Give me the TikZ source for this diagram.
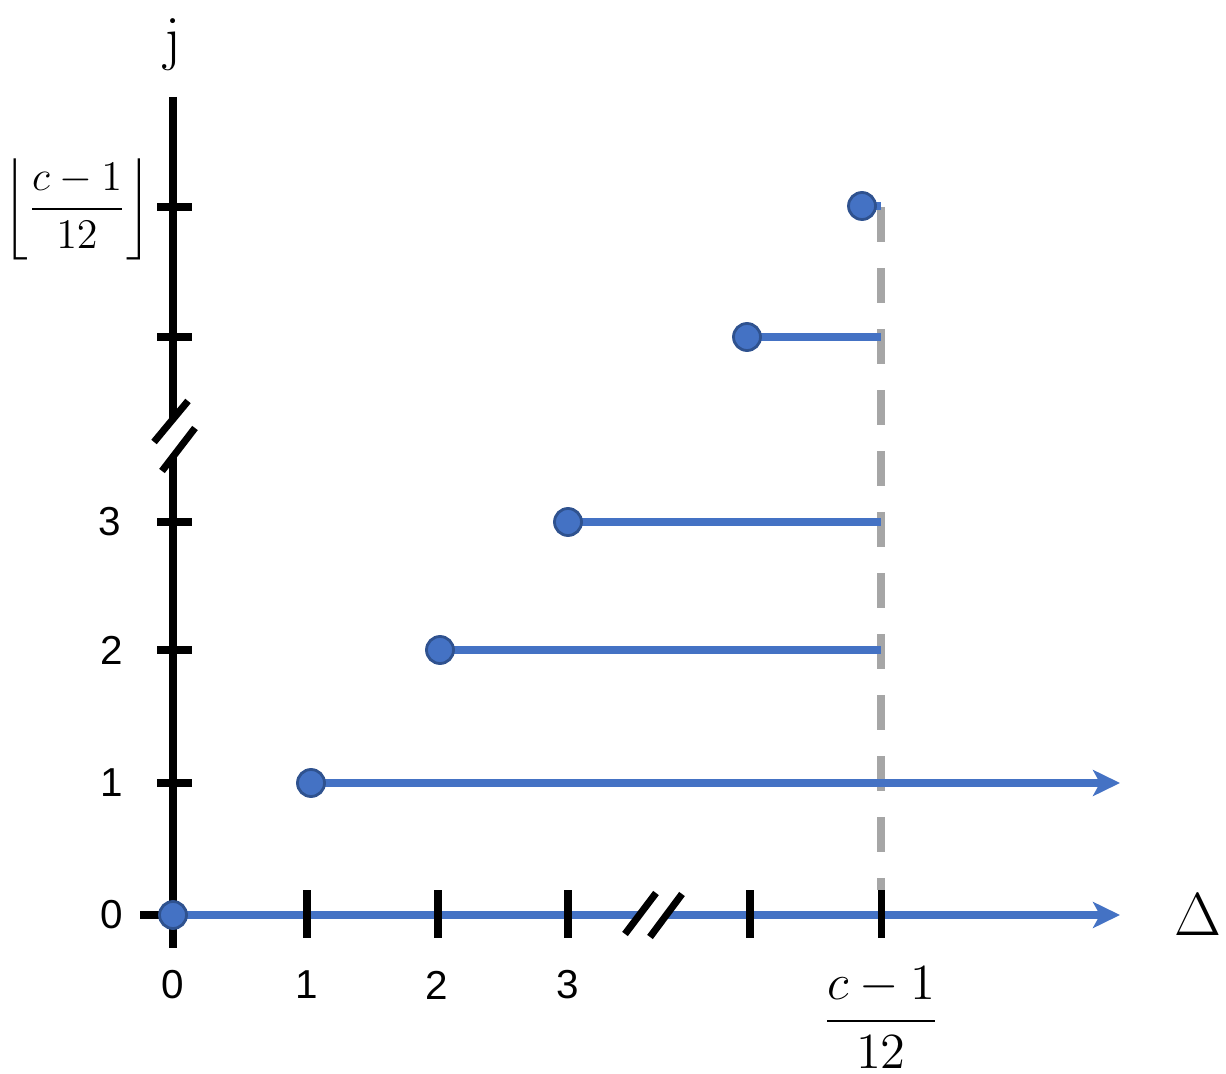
\documentclass[tikz,border=0pt]{standalone}
\usepackage[no-math]{fontspec}
\setmainfont{Liberation Sans}
\usepackage{amsmath}
\usetikzlibrary{arrows.meta, positioning, calc}
\definecolor{lineblue}{HTML}{4472C4}
\definecolor{dotedge}{HTML}{2F528F}
\definecolor{guidegray}{HTML}{A6A6A6}

\begin{document}
\begin{tikzpicture}[
    x=0.1mm, y=-0.1mm,
    axis/.style={line width=2pt, black},
    tickmark/.style={line width=2pt, black},
    level/.style={line width=2.2pt, lineblue},
    levelarrow/.style={level, -{Stealth[length=2.7mm, width=2.6mm, inset=0.7mm]}},
    guide/.style={line width=2.2pt, guidegray, dash pattern=on 3.5mm off 2.6mm},
    state/.style={circle, fill=lineblue, draw=dotedge, line width=0.8pt, minimum size=2.7mm, inner sep=0pt},
    numlabel/.style={font=\fontsize{11.5}{13}\selectfont},
    mathlabel/.style={font=\fontsize{14}{16}\selectfont},
    floorlabel/.style={font=\fontsize{12.5}{15}\selectfont},
    biglabel/.style={font=\fontsize{17}{20}\selectfont}
]
\useasboundingbox (0,0) rectangle (1226,1074);

% axes
\coordinate (origin) at (173,915);
\coordinate (ytop) at (173,97);
\coordinate (ybreakT) at (173,419);
\coordinate (ybreakB) at (173,457);
\coordinate (ybottom) at (173,948);
\coordinate (ystub) at (140,915);
\coordinate (xbreakL) at (639,915);
\coordinate (xbreakR) at (668,915);
\coordinate (xend) at (1120,915);

\draw[axis] (ytop) -- (ybreakT);
\draw[axis] (ybreakB) -- (ybottom);
\draw[axis] (ystub) -- (origin);

% dashed guide at (c-1)/12
\coordinate (guidetop) at (881,207);
\coordinate (guidebot) at (881,890);
\draw[guide] (guidetop) -- (guidebot);

\draw[level] (origin) -- (xbreakL);
\draw[levelarrow] (xbreakR) -- (xend);

\foreach \x in {307,438,568,750,881}
    \draw[tickmark] (\x,890) -- (\x,938);
\foreach \y in {783,650,522,337,207}
    \draw[tickmark] (157,\y) -- (192,\y);

% axis breaks
\draw[tickmark] (154,442) -- (188,401);
\draw[tickmark] (162,471) -- (195,428);
\draw[tickmark] (625,934) -- (656,893);
\draw[tickmark] (650,937) -- (682,894);

% levels
\coordinate (s1) at (311,783); \coordinate (e1) at (1120,783);
\coordinate (s2) at (440,650); \coordinate (e2) at (881,650);
\coordinate (s3) at (568,522); \coordinate (e3) at (881,522);
\coordinate (s4) at (747,337); \coordinate (e4) at (881,337);
\coordinate (s5) at (862,206); \coordinate (e5) at (881,206);

\draw[levelarrow] (s1) -- (e1);
\draw[level] (s2) -- (e2);
\draw[level] (s3) -- (e3);
\draw[level] (s4) -- (e4);
\draw[level] (s5) -- (e5);

\node[state] (dot0) at (origin) {};
\node[state] (dot1) at (s1) {};
\node[state] (dot2) at (s2) {};
\node[state] (dot3) at (s3) {};
\node[state] (dot4) at (s4) {};
\node[state] (dot5) at (s5) {};

% labels
\node[numlabel] (ylab0) at (112,915) {0};
\node[numlabel] (ylab1) at (112,783) {1};
\node[numlabel] (ylab2) at (112,650) {2};
\node[numlabel] (ylab3) at (110,522) {3};
\node[floorlabel] (ylabtop) at (77,209) {$\left\lfloor\dfrac{c-1}{12}\right\rfloor$};
\node[biglabel] (jlabel) at (173,45) {$\mathrm{j}$};

\node[numlabel] (xlab0) at (173,985) {0};
\node[numlabel] (xlab1) at (307,985) {1};
\node[numlabel] (xlab2) at (437,985) {2};
\node[numlabel] (xlab3) at (568,985) {3};
\node[mathlabel] (xlabc) at (881,1018) {$\dfrac{c-1}{12}$};
\node[biglabel] (deltalabel) at (1198,915) {$\Delta$};

\end{tikzpicture}
\end{document}
